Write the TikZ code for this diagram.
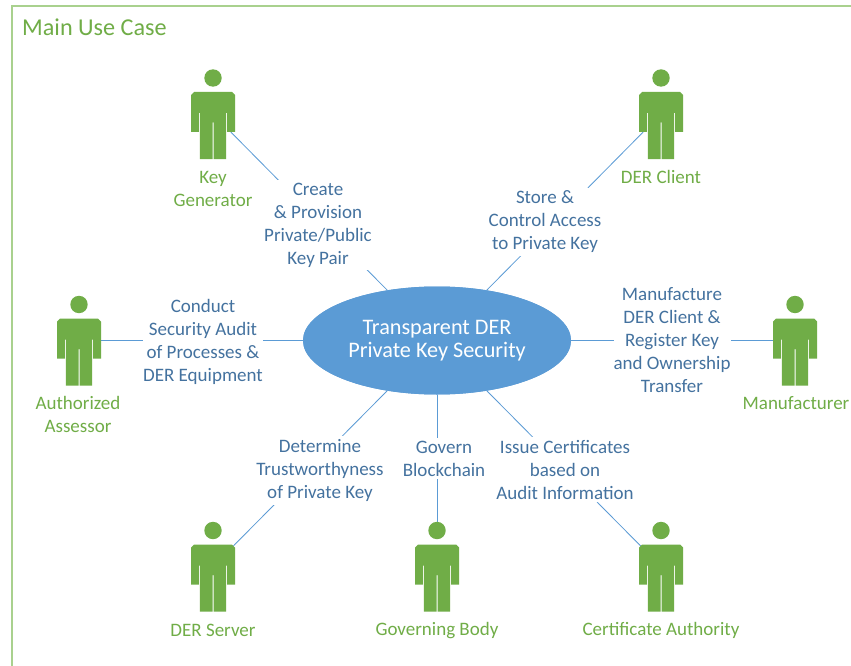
\documentclass[tikz,border=0pt]{standalone}
\usepackage{fontspec}
\setmainfont{Carlito}
\usetikzlibrary{shapes.geometric}
\definecolor{grn}{HTML}{70AD47}
\definecolor{frm}{HTML}{A9D18E}
\definecolor{blu}{HTML}{5B9BD5}
\definecolor{txt}{HTML}{44729F}
\tikzset{
  x=1pt,y=-1pt,
  hubnode/.style={ellipse,fill=blu,draw=none,minimum width=268pt,minimum height=108pt,inner sep=0pt,text=white,align=center,font=\fontsize{22.2}{23}\selectfont},
  anchorbox/.style={rectangle,minimum width=36pt,minimum height=36pt,inner sep=0pt,outer sep=0pt},
  lab/.style={fill=white,inner xsep=0pt,inner ysep=3pt,align=center,text=txt,font=\fontsize{19}{23}\selectfont},
  actorlab/.style={inner sep=0pt,align=center,text=grn,font=\fontsize{19}{23}\selectfont},
  link/.style={draw=blu,line width=0.8pt},
}
\newcommand{\actorfig}[2]{%
  \begin{scope}[shift={(#1,#2)}]
    \fill[grn] (0,-36) circle[radius=8.7];
    \fill[grn] (-19,-22) -- (19,-22) -- (22,-19) -- (22,18) -- (14.2,18) -- (14.2,-1) -- (13.2,-1)
       -- (13.2,45) -- (0.5,45) -- (0.5,8.5) -- (-0.5,8.5) -- (-0.5,45) -- (-13.2,45) -- (-13.2,-1) -- (-14.2,-1)
       -- (-14.2,18) -- (-22,18) -- (-22,-19) -- cycle;
  \end{scope}}
\begin{document}
\begin{tikzpicture}
\useasboundingbox (0,0) rectangle (851,666);
\fill[white] (0,0) rectangle (851,666);
\draw[frm,line width=1.7pt] (851,6) -- (12,6) -- (12,666);
\node[text=grn,inner sep=0pt,anchor=west,font=\fontsize{24.2}{26}\selectfont] (title) at (22,27) {Main Use Case};
\node[hubnode] (hub) at (437,340.5) {};
\node[anchorbox] (kg) at (213,114) {};
\node[anchorbox] (client) at (661,114) {};
\node[anchorbox] (assessor) at (79,340.5) {};
\node[anchorbox] (maker) at (795,340.5) {};
\node[anchorbox] (server) at (213,566.5) {};
\coordinate (bodyhead) at (437,530);
\node[anchorbox] (ca) at (661,566.5) {};
\draw[link] (kg) -- (hub);
\draw[link] (client) -- (hub);
\draw[link] (assessor) -- (hub);
\draw[link] (maker) -- (hub);
\draw[link] (server) -- (hub);
\draw[link] (bodyhead) -- (hub);
\draw[link] (ca) -- (hub);
\node[hubnode] at (437,340.5) {Transparent DER\\Private Key Security};
\actorfig{213}{114}\actorfig{661}{114}\actorfig{79}{340.5}\actorfig{795}{340.5}\actorfig{213}{566.5}\actorfig{437}{566.5}\actorfig{661}{566.5}
\node[lab] (l1) at (318,225) {Create\\\&~Provision\\Private/Public\\Key Pair};
\node[lab] (l2) at (545,222) {Store \&\\Control Access\\to Private Key};
\node[lab] (l3) at (203,342) {Conduct\\Security Audit\\of Processes \&\\DER Equipment};
\node[lab] (l4) at (672,340.5) {Manufacture\\DER Client \&\\Register Key\\and Ownership\\Transfer};
\node[lab] (l5) at (320,470.5) {Determine\\Trustworthyness\\of Private Key};
\node[lab] (l6) at (444,458.5) {Govern\\Blockchain};
\node[lab] (l7) at (565,469.5) {Issue Certificates\\based on\\Audit Information};
\node[actorlab] (a1) at (213,189) {Key\\Generator};
\node[actorlab] (a2) at (661,177) {DER Client};
\node[actorlab] (a3) at (78,414.5) {Authorized\\Assessor};
\node[actorlab] (a4) at (796,403) {Manufacturer};
\node[actorlab] (a5) at (213,630) {DER Server};
\node[actorlab] (a6) at (437,630.5) {Governing Body};
\node[actorlab] (a7) at (661,630.5) {Certificate Authority};
\end{tikzpicture}
\end{document}
